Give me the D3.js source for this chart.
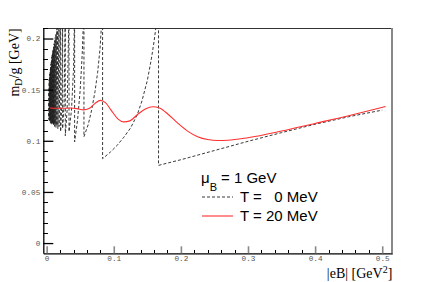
<!DOCTYPE html>
<html>
<head>
<meta charset="UTF-8">
<title>m_D/g vs |eB|</title>
<script src="https://d3js.org/d3.v7.min.js"></script>
<style>
    html, body {margin: 0; padding: 0; background: #fff; overflow: hidden}
    .tick text {font-family: "Liberation Mono", monospace; font-size: 7.7px; fill: #555;}
</style>
</head>
<body>
<svg id="chart" width="436" height="282"></svg>
<script>

// tick labels
const xMajor = [0, 0.1, 0.2, 0.3, 0.4, 0.5];
const xLabels = ["0", "0.1", "0.2", "0.3", "0.4", "0.5"];
const yMajor = [0, 0.05, 0.1, 0.15, 0.2];
const yLabels = ["0", "0.05", "0.1", "0.15", "0.2"];

// T = 20 MeV (smooth curve)
const eB20 = [0.005, 0.015, 0.025, 0.035, 0.045, 0.055, 0.063, 0.072, 0.08, 0.088,
              0.097, 0.106, 0.115, 0.124, 0.135, 0.147, 0.158, 0.168, 0.18, 0.195,
              0.21, 0.225, 0.24, 0.255, 0.27, 0.3, 0.35, 0.4, 0.45, 0.505];
const mD20 = [0.132, 0.1318, 0.1318, 0.132, 0.1315, 0.1302, 0.1315, 0.1365, 0.1395, 0.137,
              0.129, 0.1215, 0.1185, 0.1195, 0.1255, 0.131, 0.1333, 0.132, 0.1265, 0.1175,
              0.1095, 0.104, 0.1012, 0.1003, 0.1005, 0.103, 0.1095, 0.117, 0.1245, 0.1335];

// T = 0 MeV : Landau level edges and the values on both sides of each edge
const t0Start = [0.0033, 0.124];
const levelEdges = [0.00347, 0.00379, 0.00417, 0.00463, 0.00505, 0.00556, 0.00595, 0.00641, 0.00694, 0.00758,
                    0.00833, 0.00877, 0.00926, 0.0098, 0.01042, 0.01111, 0.0119, 0.01282, 0.01389, 0.01515,
                    0.01667, 0.01852, 0.02083, 0.02381, 0.02778, 0.03333, 0.04167, 0.05556, 0.08333, 0.16667];
const mDBefore = [0.150, 0.160, 0.162, 0.165, 0.167, 0.170, 0.172, 0.175, 0.178, 0.182,
                  0.185, 0.186, 0.188, 0.190, 0.192, 0.195, 0.198, 0.201, 0.205, 0.210,
                  0.23, 0.23, 0.23, 0.23, 0.23, 0.23, 0.23, 0.23, 0.23, 0.23];
const mDAfter = [0.121, 0.120, 0.121, 0.119, 0.120, 0.118, 0.119, 0.117, 0.118, 0.116,
                 0.117, 0.118, 0.116, 0.117, 0.115, 0.116, 0.114, 0.116, 0.113, 0.115,
                 0.112, 0.114, 0.109, 0.112, 0.105, 0.109, 0.099, 0.104, 0.0825, 0.076];
// points inside the wider branches (index = edge where the branch starts)
const branchInner = [[], [], [], [], [], [], [], [], [], [],
                     [], [], [], [], [], [], [], [], [], [],
                     [], [],
                     [[0.0225, 0.135]],
                     [[0.026, 0.136]],
                     [[0.0305, 0.13]],
                     [[0.037, 0.13], [0.040, 0.17]],
                     [[0.046, 0.12], [0.050, 0.15], [0.053, 0.185]],
                     [[0.062, 0.116], [0.067, 0.13], [0.072, 0.148], [0.076, 0.167], [0.0795, 0.19]],
                     [[0.095, 0.089], [0.105, 0.0955], [0.115, 0.1035], [0.125, 0.1125], [0.135, 0.1255],
                      [0.142, 0.139], [0.150, 0.159], [0.156, 0.18], [0.160, 0.197]],
                     [[0.2, 0.0815], [0.25, 0.0905], [0.3, 0.0995], [0.35, 0.108], [0.4, 0.1162],
                      [0.45, 0.1235], [0.5, 0.130]]];

const svg = d3.select("#chart");
const fx0 = 43.3, fx1 = 392.3, fy0 = 28.3, fy1 = 253.3;

let x = d3.scaleLinear().domain([-0.005, 0.515]).range([fx0, fx1]);
let y = d3.scaleLinear().domain([-0.01, 0.21]).range([fy1, fy0]);

svg.append("rect").attr("width", 436).attr("height", 282).attr("fill", "#fff");

svg.append("clipPath").attr("id", "frameClip")
    .append("rect").attr("x", fx0).attr("y", fy0).attr("width", fx1 - fx0).attr("height", fy1 - fy0);

// frame top / right
svg.append("line").attr("x1", fx0).attr("x2", fx1).attr("y1", fy0).attr("y2", fy0)
    .attr("stroke", "#333").attr("stroke-width", 1).attr("shape-rendering", "crispEdges");
svg.append("line").attr("x1", fx1).attr("x2", fx1).attr("y1", fy0).attr("y2", fy1)
    .attr("stroke", "#888").attr("stroke-width", 2).attr("shape-rendering", "crispEdges");

// build T=0 points
let t0 = [t0Start];
levelEdges.forEach((e, i) => {
    t0.push([e, mDBefore[i]]);
    t0.push([e, mDAfter[i]]);
    branchInner[i].forEach(p => t0.push(p));
});

let line = d3.line().x(d => x(d[0])).y(d => y(d[1]));

let plot = svg.append("g").attr("clip-path", "url(#frameClip)");
plot.append("path").datum(t0)
    .attr("d", line)
    .attr("fill", "none").attr("stroke", "#222").attr("stroke-width", 0.9)
    .attr("stroke-dasharray", "3,2");

let red = eB20.map((v, i) => [v, mD20[i]]);
plot.append("path").datum(red)
    .attr("d", line.curve(d3.curveMonotoneX))
    .attr("fill", "none").attr("stroke", "#ff3030").attr("stroke-width", 1.1);

// x axis
let xMinor = d3.range(0, 0.515, 0.02).filter(v => Math.abs(v * 10 - Math.round(v * 10)) > 1e-6);
svg.append("g").attr("transform", `translate(0,${fy1})`)
    .call(d3.axisBottom(x).tickValues(xMinor).tickSize(-3.5).tickSizeOuter(0).tickFormat(""))
    .call(g => g.select(".domain").remove())
    .call(g => g.selectAll("line").attr("stroke", "#000").attr("shape-rendering", "crispEdges"));
svg.append("g").attr("transform", `translate(0,${fy1})`)
    .call(d3.axisBottom(x).tickValues(xMajor).tickSize(-7).tickSizeOuter(0).tickPadding(2.7)
        .tickFormat((d, i) => xLabels[i]))
    .call(g => g.select(".domain").attr("stroke", "#000").attr("stroke-width", 1.3))
    .call(g => g.selectAll(".tick line").attr("stroke", "#888").attr("stroke-width", 1.6));

// y axis
let yMinor = d3.range(0.01, 0.215, 0.01).filter(v => Math.abs(v * 20 - Math.round(v * 20)) > 1e-6);
svg.append("g").attr("transform", `translate(${fx0},0)`)
    .call(d3.axisLeft(y).tickValues(yMinor).tickSize(-5).tickSizeOuter(0).tickFormat(""))
    .call(g => g.select(".domain").remove())
    .call(g => g.selectAll("line").attr("stroke", "#000").attr("shape-rendering", "crispEdges"));
svg.append("g").attr("transform", `translate(${fx0},0)`)
    .call(d3.axisLeft(y).tickValues(yMajor).tickSize(-10).tickSizeOuter(0).tickPadding(3)
        .tickFormat((d, i) => yLabels[i]))
    .call(g => g.select(".domain").attr("stroke", "#000").attr("stroke-width", 1.3))
    .call(g => g.selectAll(".tick line").attr("stroke", "#000").attr("stroke-width", 1.3));

// axis titles
let yt = svg.append("text")
    .attr("transform", `translate(18.5,${fy0}) rotate(-90)`)
    .attr("text-anchor", "end")
    .style("font-family", "'Liberation Serif', serif").style("font-size", "14px");
yt.append("tspan").text("m");
yt.append("tspan").attr("dy", 3.5).style("font-size", "10px").text("D");
yt.append("tspan").attr("dy", -3.5).text("/g [GeV]");

let xt = svg.append("text")
    .attr("x", fx1).attr("y", 278)
    .attr("text-anchor", "end")
    .style("font-family", "'Liberation Serif', serif").style("font-size", "14px");
xt.append("tspan").text("|eB| [GeV");
xt.append("tspan").attr("dy", -5).style("font-size", "10px").text("2");
xt.append("tspan").attr("dy", 5).text("]");

// legend
let lg = svg.append("g").style("font-family", "'Liberation Sans', Arial, sans-serif").style("font-size", "15px");
let mu = lg.append("text").attr("x", 201).attr("y", 183.3);
mu.append("tspan").text("μ");
mu.append("tspan").attr("dy", 8).style("font-size", "11px").text("B");
lg.append("text").attr("x", 221).attr("y", 183.3).text("= 1 GeV");

lg.append("line").attr("x1", 202).attr("x2", 233).attr("y1", 197).attr("y2", 197)
    .attr("stroke", "#222").attr("stroke-width", 0.9).attr("stroke-dasharray", "3,2");
lg.append("line").attr("x1", 202).attr("x2", 233).attr("y1", 216).attr("y2", 216)
    .attr("stroke", "#ff3030").attr("stroke-width", 1.1);

let t20 = lg.append("text").attr("x", 240).attr("y", 220.7).text("T = 20 MeV");
let rightEdge = 240 + t20.node().getComputedTextLength();
lg.append("text").attr("x", 240).attr("y", 201.7).text("T =");
lg.append("text").attr("x", rightEdge).attr("y", 201.7).attr("text-anchor", "end").text("0 MeV");

</script>
</body>
</html>
